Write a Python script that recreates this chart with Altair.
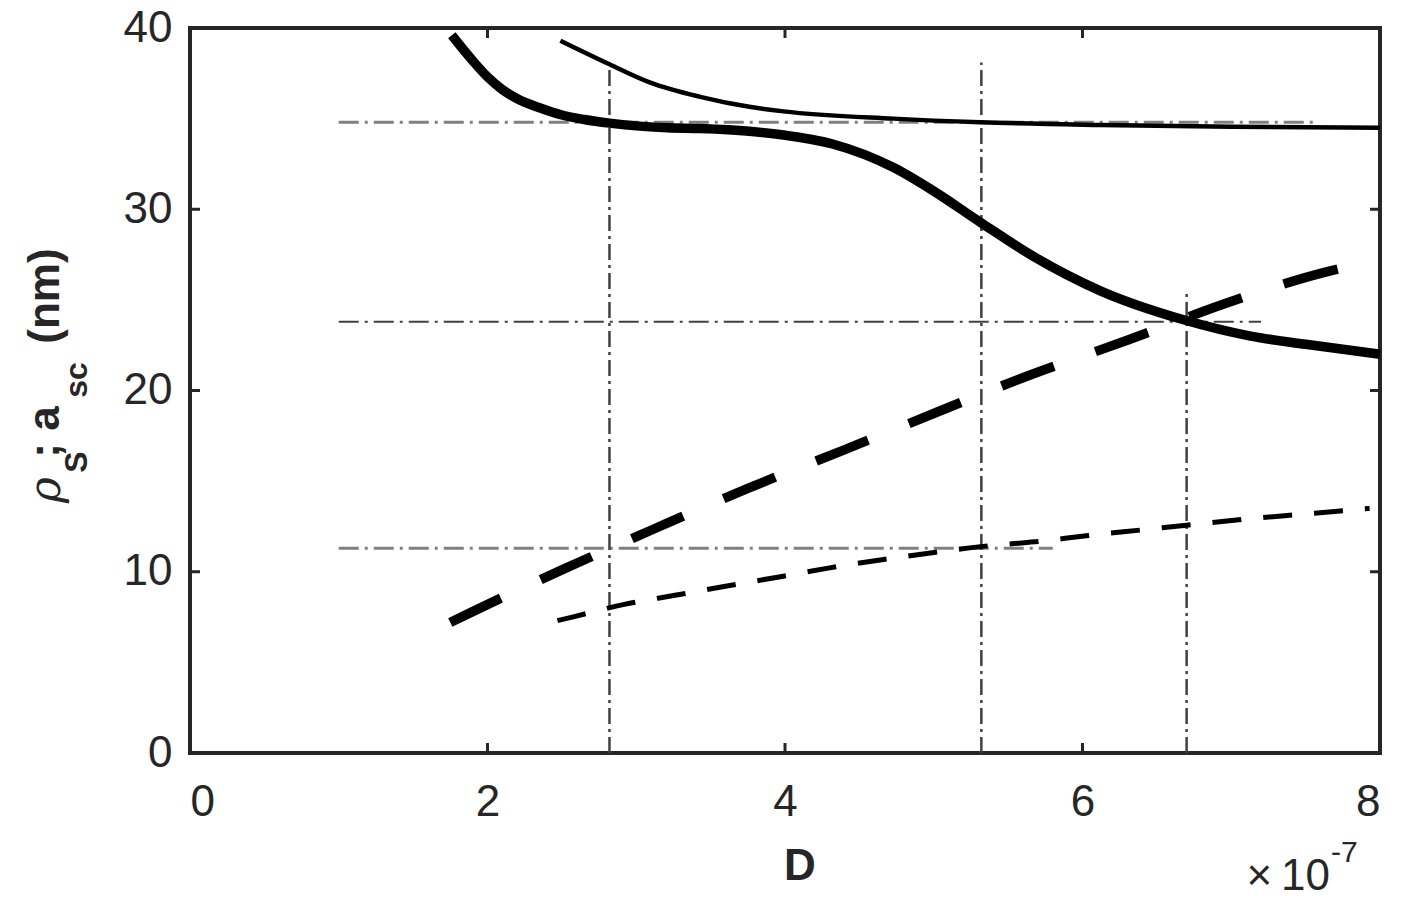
import altair as alt
import pandas as pd

# ---- data ----
thick_solid_x = [1.76, 1.9, 2.0, 2.1, 2.2, 2.35, 2.5, 2.65, 2.82, 3.0, 3.21, 3.43, 3.76, 3.99, 4.32, 4.73, 5.0, 5.31, 5.67, 6.12, 6.68, 7.13, 7.5, 8.0]
thick_solid_y = [39.6, 38.2, 37.3, 36.6, 36.1, 35.6, 35.2, 34.95, 34.75, 34.6, 34.5, 34.45, 34.3, 34.1, 33.6, 32.3, 31.0, 29.3, 27.4, 25.5, 23.9, 23.0, 22.55, 22.0]

thin_solid_x = [2.49, 2.82, 3.09, 3.43, 3.76, 3.99, 4.73, 5.31, 6.12, 7.0, 8.0]
thin_solid_y = [39.3, 38.0, 37.0, 36.2, 35.65, 35.4, 35.0, 34.8, 34.65, 34.55, 34.5]

thick_dashed_x = [1.75, 1.90, 2.50, 3.13, 3.75, 4.39, 5.02, 5.63, 6.31, 6.96, 7.62, 8.0]
thick_dashed_y = [7.2, 7.8, 10.1, 12.4, 14.6, 16.7, 18.8, 20.8, 22.8, 24.8, 26.5, 27.2]

thin_dashed_x = [2.47, 2.57, 2.92, 3.26, 3.6, 3.95, 4.29, 4.64, 4.99, 5.33, 5.68, 6.04, 6.39, 6.74, 7.09, 7.44, 7.8, 7.93]
thin_dashed_y = [7.3, 7.5, 8.2, 8.7, 9.2, 9.7, 10.2, 10.65, 11.05, 11.4, 11.65, 12.0, 12.3, 12.6, 12.9, 13.15, 13.4, 13.5]

# dash-dot guide lines
hgray_y = [34.8, 11.3]
hgray_x1 = [1.0, 1.0]
hgray_x2 = [7.55, 5.8]
hdark_y = [23.8]
hdark_x1 = [1.0]
hdark_x2 = [7.2]
vline_x = [2.82, 5.32, 6.70]
vline_y1 = [0, 0, 0]
vline_y2 = [38.1, 38.1, 25.5]

x_ticks = [0, 2, 4, 6, 8]
y_ticks = [0, 10, 20, 30, 40]

W, H = 1190, 725
TXT = "#262626"
FONT = "Liberation Sans"

xs = alt.Scale(domain=[0, 8], nice=False)
ys = alt.Scale(domain=[0, 40], nice=False)

def df(x, y):
    return pd.DataFrame({"x": x, "y": y})

X = alt.X("x:Q", scale=xs, axis=alt.Axis(values=x_ticks, title=None, format="d",
          labelFontSize=44, labelFont=FONT, labelColor=TXT, labelPadding=27,
          ticks=False, domain=False, grid=False))
Y = alt.Y("y:Q", scale=ys, axis=alt.Axis(values=y_ticks, title=None, format="d",
          labelFontSize=44, labelFont=FONT, labelColor=TXT, labelPadding=18,
          ticks=False, domain=False, grid=False))

hgray = alt.Chart(pd.DataFrame({"y": hgray_y, "x": hgray_x1, "x2": hgray_x2})).mark_rule(
    color="#808080", strokeWidth=3, strokeDash=[20, 6, 3, 6]).encode(x=X, x2="x2:Q", y=Y)
hdark = alt.Chart(pd.DataFrame({"y": hdark_y, "x": hdark_x1, "x2": hdark_x2})).mark_rule(
    color="#404040", strokeWidth=2, strokeDash=[20, 6, 3, 6]).encode(x=X, x2="x2:Q", y=Y)
vl = alt.Chart(pd.DataFrame({"x": vline_x, "y": vline_y1, "y2": vline_y2})).mark_rule(
    color="#404040", strokeWidth=2.5, strokeDash=[16, 5, 3, 5]).encode(x=X, y=Y, y2="y2:Q")

def line(x, y, w, dash=None):
    kw = dict(color="black", strokeWidth=w, interpolate="monotone", strokeCap="butt")
    if dash:
        kw["strokeDash"] = dash
    return alt.Chart(df(x, y)).mark_line(**kw).encode(x=X, y=Y)

l1 = line(thick_solid_x, thick_solid_y, 9.5)
l2 = line(thin_solid_x, thin_solid_y, 4.5)
l3 = line(thick_dashed_x, thick_dashed_y, 9.5, [56, 44])
l4 = line(thin_dashed_x, thin_dashed_y, 5, [29, 22])

# inward ticks on all four sides
xt = pd.DataFrame({"x": x_ticks})
yt = pd.DataFrame({"y": y_ticks})
tk_b = alt.Chart(xt).mark_rule(color=TXT, strokeWidth=3).encode(x=X, y=alt.value(H), y2=alt.value(H - 10))
tk_t = alt.Chart(xt).mark_rule(color=TXT, strokeWidth=3).encode(x=X, y=alt.value(0), y2=alt.value(10))
tk_l = alt.Chart(yt).mark_rule(color=TXT, strokeWidth=3).encode(y=Y, x=alt.value(0), x2=alt.value(10))
tk_r = alt.Chart(yt).mark_rule(color=TXT, strokeWidth=3).encode(y=Y, x=alt.value(W), x2=alt.value(W - 10))

# text labels (axis titles, exponent)
def txt(s, x, y, size, bold=False, italic=False, angle=None, align="center", font=FONT, baseline="alphabetic"):
    kw = dict(text=s, fontSize=size, font=font, color=TXT, align=align, baseline=baseline)
    if bold:
        kw["fontWeight"] = "bold"
    if italic:
        kw["fontStyle"] = "italic"
    if angle is not None:
        kw["angle"] = angle
    return alt.Chart(pd.DataFrame({"a": [0]})).mark_text(**kw).encode(x=alt.value(x), y=alt.value(y))

OX, OY = 190, 28
texts = [
    txt("D", 800 - OX, 880 - OY, 44, bold=True),
    txt("×\u200910", 1330 - OX, 890 - OY, 44, align="right"),
    txt("-7", 1331 - OX, 862 - OY, 30, align="left"),
    txt("ρ", 60 - OX, 490 - OY, 44, italic=True, angle=270, font="DejaVu Serif"),
    txt("S", 87 - OX, 462 - OY, 32, bold=True, angle=270),
    txt("; a", 59 - OX, 432 - OY, 44, bold=True, angle=270),
    txt("sc", 87 - OX, 380 - OY, 32, bold=True, angle=270),
    txt("(nm)", 59 - OX, 296 - OY, 44, bold=True, angle=270),
]

chart = alt.layer(hgray, hdark, vl, l1, l2, l3, l4, tk_b, tk_t, tk_l, tk_r, *texts).properties(
    width=W, height=H,
    autosize=alt.AutoSizeParams(type="none"),
    padding={"left": 182, "top": 20, "right": 23, "bottom": 148},
    background="white",
).configure_view(stroke=TXT, strokeWidth=4)

chart.save("out.html", embed_options={"renderer": "svg", "actions": False})
